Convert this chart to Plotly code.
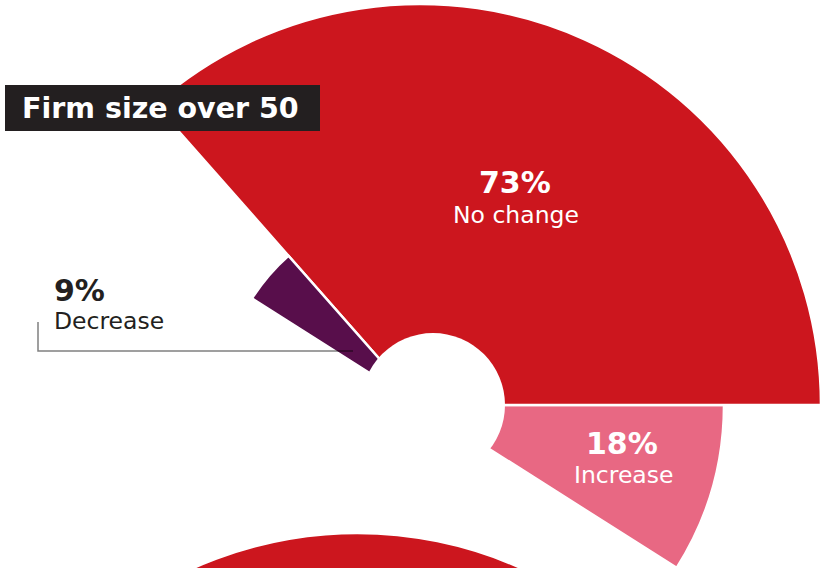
import plotly.graph_objects as go

# ---- data -------------------------------------------------------------
categories = ["Increase", "No change", "Decrease"]
shares = [18, 73, 9]
share_labels = ["18%", "73%", "9%"]

# next panel down the page; only its "No change" wedge reaches into view
next_categories = ["No change"]
next_shares = [70]

# ---- styling ----------------------------------------------------------
W, H = 831, 1170
colors = ["#E86883", "#CC161E", "#580E4B"]
wedge_radius = [304, 401, 199]       # radial length of each wedge
DEG_PER_PCT = 1.8                    # 100 % fills a half circle
R_MAX = 405                          # radial axis range -> pixels
FONT = "DejaVu Sans"
DARK = "#231F20"


def px(x, y):
    """pixel position -> paper coordinates"""
    return x / W, 1 - y / H


def wedges(values):
    start = -values[0] * DEG_PER_PCT
    thetas, widths = [], []
    for v in values:
        w = v * DEG_PER_PCT
        thetas.append(start + w / 2)
        widths.append(w)
        start += w
    return thetas, widths


def polar_domain(cx, cy, radius, sector=(-35, 150)):
    # bounding box of the sector, in units of the radius
    bx0, by0, bx1, by1 = -0.8660254, -0.5735764, 1.0, 1.0
    left = cx + bx0 * radius
    right = cx + bx1 * radius
    top = cy - by1 * radius
    bottom = cy - by0 * radius
    return dict(
        domain=dict(x=[max(left, 0) / W, min(right, W) / W],
                    y=[1 - bottom / H, 1 - top / H]),
        sector=list(sector),
        bgcolor="rgba(0,0,0,0)",
        radialaxis=dict(visible=False, range=[0, R_MAX]),
        angularaxis=dict(visible=False, direction="counterclockwise", rotation=0),
    )


fig = go.Figure()

thetas, widths = wedges(shares)
fig.add_trace(go.Barpolar(
    r=wedge_radius, theta=thetas, width=widths, base=0,
    marker=dict(color=colors, line=dict(color="white", width=2.5)),
    hoverinfo="skip", customdata=categories, subplot="polar",
))

n_thetas, n_widths = wedges([0] + next_shares)
fig.add_trace(go.Barpolar(
    r=[wedge_radius[1]], theta=n_thetas[1:], width=n_widths[1:], base=0,
    marker=dict(color=colors[1], line=dict(color="white", width=2.5)),
    hoverinfo="skip", customdata=next_categories, subplot="polar2",
))

shapes = []
# white hub over the centre of the wedges
hx0, hy0 = px(433 - 72, 405 - 72)
hx1, hy1 = px(433 + 72, 405 + 72)
shapes.append(dict(type="circle", xref="paper", yref="paper",
                   x0=hx0, y0=hy1, x1=hx1, y1=hy0,
                   fillcolor="white", line=dict(width=0), layer="above"))
# title plate
tx0, ty0 = px(5, 85)
tx1, ty1 = px(320, 131)
shapes.append(dict(type="rect", xref="paper", yref="paper",
                   x0=tx0, y0=ty1, x1=tx1, y1=ty0,
                   fillcolor=DARK, line=dict(width=0), layer="above"))
# leader line for the "Decrease" wedge
a = px(38, 322)
b = px(38, 351)
c = px(353, 351)
shapes.append(dict(type="path", xref="paper", yref="paper",
                   path=f"M {a[0]} {a[1]} L {b[0]} {b[1]} L {c[0]} {c[1]}",
                   line=dict(color="rgba(0,0,0,0.5)", width=1.5), layer="above"))

annotations = []


def label(text, x, y, size, color, bold=False, anchor="center"):
    ax, ay = px(x, y)
    annotations.append(dict(
        text=f"<b>{text}</b>" if bold else text,
        x=ax, y=ay, xref="paper", yref="paper",
        xanchor=anchor, yanchor="middle", showarrow=False, borderpad=0,
        font=dict(family=FONT, size=size, color=color),
    ))


label("Firm size over 50", 21, 108.5, 28.5, "white", bold=True, anchor="left")
label(share_labels[1], 515, 182.5, 30, "white", bold=True)
label(categories[1], 516, 214.5, 23.5, "white")
label(share_labels[0], 622, 443.5, 30, "white", bold=True)
label(categories[0], 623, 475, 23.5, "white")
label(share_labels[2], 53, 290.5, 30, DARK, bold=True, anchor="left")
label(categories[2], 53, 321, 23.5, DARK, anchor="left")

fig.update_layout(
    width=W, height=H,
    margin=dict(l=0, r=0, t=0, b=0),
    paper_bgcolor="white", plot_bgcolor="white",
    showlegend=False,
    polar=polar_domain(420, 405, R_MAX),
    polar2=polar_domain(357, 934, R_MAX),
    shapes=shapes, annotations=annotations,
)

fig.write_html(
    "out.html",
    config={"displayModeBar": False},
    post_script=(
        "document.body.style.margin='0';"
        "document.body.style.overflow='hidden';"
        "document.documentElement.style.overflow='hidden';"
    ),
)
